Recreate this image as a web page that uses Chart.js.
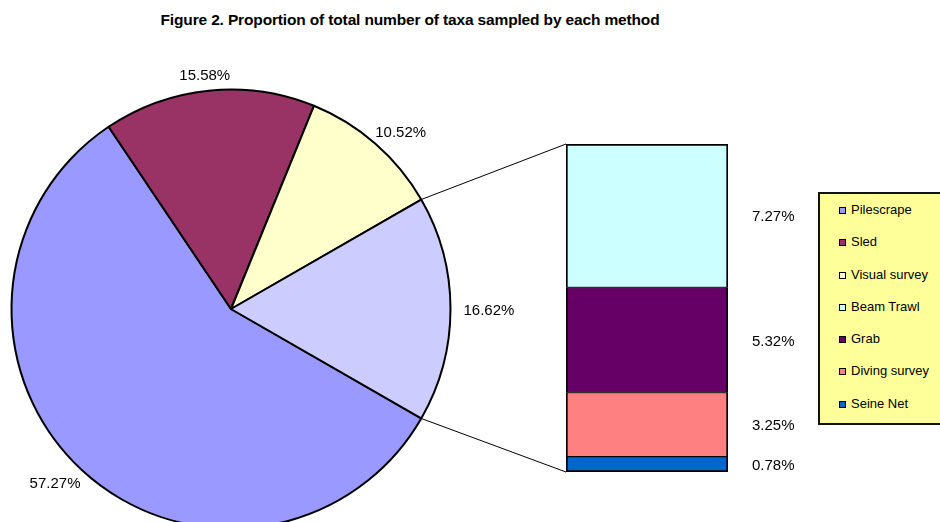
<!DOCTYPE html>
<html>
<head>
<meta charset="utf-8">
<title>Figure 2</title>
<script src="https://cdn.jsdelivr.net/npm/chart.js@4.4.1/dist/chart.umd.min.js"></script>
<style>
    html, body { margin: 0; padding: 0; background: #fff; overflow: hidden; width: 940px; height: 522px; }
    body { position: relative; font-family: "Liberation Sans", Arial, sans-serif; }
    #titulo { position: absolute; left: 0; top: 11px; width: 820px; text-align: center; font-weight: bold; font-size: 15.5px; letter-spacing: -0.15px; }
    #pizza { position: absolute; left: 0; top: 0; }
    #barra { position: absolute; left: 560px; top: 140px; }
    #legenda { position: absolute; left: 818px; top: 192px; width: 150px; height: 229px; background: #ffff99; border: 2px solid #111; }
    .item { height: 32.3px; line-height: 32.3px; font-size: 13px; padding-left: 19px; white-space: nowrap; }
    .item span { display: inline-block; width: 5px; height: 5px; border: 1.5px solid #000; margin-right: 5px; vertical-align: 0px; }
</style>
</head>
<body>
<div id="titulo">Figure 2. Proportion of total number of taxa sampled by each method</div>
<canvas id="pizza" width="940" height="620"></canvas>
<canvas id="barra" width="250" height="336"></canvas>
<div id="legenda"></div>
<script>
// Fatias principais da pizza
const categoriasPizza = ['Pilescrape', 'Sled', 'Visual survey'];
const valoresPizza = [57.27, 15.58, 10.52];
const coresPizza = ['#9999ff', '#993366', '#ffffcc'];
const corOutros = '#ccccff';

// Métodos agrupados na barra ao lado
const categoriasBarra = ['Beam Trawl', 'Grab', 'Diving survey', 'Seine Net'];
const valoresBarra = [7.27, 5.32, 3.25, 0.78];
const coresBarra = ['#ccffff', '#660066', '#ff8080', '#0066cc'];

const totalOutros = Math.round(valoresBarra.reduce((a, b) => a + b, 0) * 100) / 100;
const dadosPizza = valoresPizza.concat([totalOutros]);
const totalPizza = dadosPizza.reduce((a, b) => a + b, 0);
const fonte = '"Liberation Sans", Arial, sans-serif';

// Legenda
const legenda = document.getElementById('legenda');
categoriasPizza.concat(categoriasBarra).forEach(function (nome, i) {
    const cor = coresPizza.concat(coresBarra)[i];
    const div = document.createElement('div');
    div.className = 'item';
    div.innerHTML = '<span style="background:' + cor + '"></span>' + nome;
    legenda.appendChild(div);
});

// Rótulos da barra
const rotulosBarra = {
    id: 'rotulosBarra',
    afterDatasetsDraw(chart) {
        const ctx = chart.ctx;
        ctx.save();
        ctx.font = '15px ' + fonte;
        ctx.fillStyle = '#000';
        ctx.textAlign = 'left';
        ctx.textBaseline = 'middle';
        chart.data.datasets.forEach(function (ds, i) {
            const el = chart.getDatasetMeta(i).data[0];
            ctx.fillText(ds.data[0].toFixed(2) + '%', chart.chartArea.right + 24, (el.y + el.base) / 2 + 1.5);
        });
        ctx.restore();
    }
};

// Barra empilhada (de baixo para cima: Seine Net ... Beam Trawl)
const n = categoriasBarra.length;
const datasetsBarra = categoriasBarra.map(function (nome, i) {
    return {
        label: nome,
        data: [valoresBarra[i]],
        backgroundColor: coresBarra[i],
        borderColor: '#000',
        borderWidth: { left: 2, right: 2, top: i === 0 ? 2 : 1, bottom: i === n - 1 ? 2 : 1 },
        borderSkipped: false,
        barPercentage: 1,
        categoryPercentage: 1
    };
}).reverse();

const graficoBarra = new Chart(document.getElementById('barra'), {
    type: 'bar',
    data: { labels: ['Outros'], datasets: datasetsBarra },
    options: {
        responsive: false,
        animation: false,
        layout: { padding: { left: 6, right: 82, top: 4, bottom: 4 } },
        scales: {
            x: { display: false, stacked: true },
            y: { display: false, stacked: true, min: 0, max: totalOutros }
        },
        plugins: { legend: { display: false }, tooltip: { enabled: false } }
    },
    plugins: [rotulosBarra]
});

// Rótulos da pizza e linhas até a barra
const rotulosPizza = {
    id: 'rotulosPizza',
    afterDraw(chart) {
        const ctx = chart.ctx;
        const arcos = chart.getDatasetMeta(0).data;
        ctx.save();
        ctx.font = '15px ' + fonte;
        ctx.fillStyle = '#000';
        ctx.textAlign = 'center';
        ctx.textBaseline = 'middle';
        arcos.forEach(function (arc, i) {
            const p = arc.getProps(['x', 'y', 'startAngle', 'endAngle', 'outerRadius'], true);
            const meio = (p.startAngle + p.endAngle) / 2;
            const txt = dadosPizza[i].toFixed(2) + '%';
            const w = ctx.measureText(txt).width;
            const r = p.outerRadius + 13;
            const cx = p.x + Math.cos(meio) * (r + w / 2);
            const cy = p.y + Math.sin(meio) * (r + 4) + 2;
            ctx.fillText(txt, cx, cy);
        });

        // linhas de ligação da fatia "outros" até a barra
        const outro = arcos[arcos.length - 1].getProps(['x', 'y', 'startAngle', 'endAngle', 'outerRadius'], true);
        const topo = graficoBarra.getDatasetMeta(graficoBarra.data.datasets.length - 1).data[0];
        const base = graficoBarra.getDatasetMeta(0).data[0];
        const offX = 560, offY = 140;
        ctx.strokeStyle = '#000';
        ctx.lineWidth = 1;
        ctx.beginPath();
        ctx.moveTo(outro.x + Math.cos(outro.startAngle) * outro.outerRadius, outro.y + Math.sin(outro.startAngle) * outro.outerRadius);
        ctx.lineTo(topo.x - topo.width / 2 + offX, topo.y + offY);
        ctx.moveTo(outro.x + Math.cos(outro.endAngle) * outro.outerRadius, outro.y + Math.sin(outro.endAngle) * outro.outerRadius);
        ctx.lineTo(base.x - base.width / 2 + offX, base.base + offY);
        ctx.stroke();
        ctx.restore();
    }
};

const graficoPizza = new Chart(document.getElementById('pizza'), {
    type: 'pie',
    data: {
        labels: categoriasPizza.concat(['Outros']),
        datasets: [{
            data: dadosPizza,
            backgroundColor: coresPizza.concat([corOutros]),
            borderColor: '#000',
            borderWidth: 2
        }]
    },
    options: {
        responsive: false,
        animation: false,
        radius: 219.5,
        rotation: 90 + (totalOutros / totalPizza) * 180,
        layout: { padding: { left: 0, top: 0, right: 478, bottom: 2 } },
        plugins: { legend: { display: false }, tooltip: { enabled: false } }
    },
    plugins: [rotulosPizza]
});
</script>
</body>
</html>
